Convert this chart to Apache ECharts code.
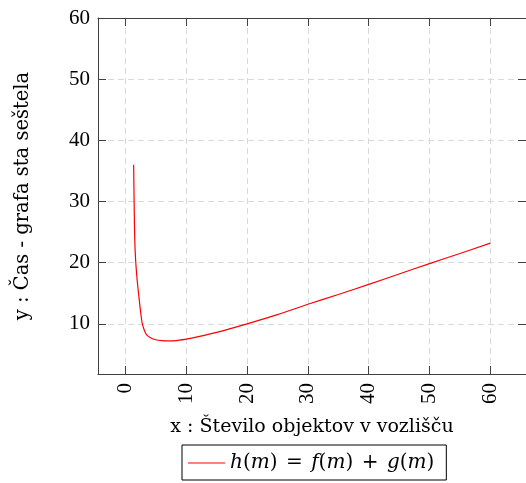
<!DOCTYPE html>
<html>
<head>
<meta charset="utf-8">
<script src="https://cdn.jsdelivr.net/npm/echarts@6/dist/echarts.min.js"></script>
<style>
  html, body { margin: 0; padding: 0; background: #fff; }
  #chart { width: 526px; height: 483px; }
</style>
</head>
<body>
<div id="chart"></div>
<script>
  // values
  const mValues = [1.36, 1.45, 1.55, 1.7, 1.95, 2.25, 2.5, 2.75, 3.1, 3.5, 4.2, 5, 6, 7, 8, 10, 12, 15, 20, 25, 30, 35, 40, 45, 50, 55, 60];
  const hValues = [36, 29, 23.5, 20.2, 17, 14.2, 12, 10.2, 9, 8.2, 7.7, 7.4, 7.25, 7.2, 7.22, 7.5, 7.9, 8.6, 10.0, 11.5, 13.2, 14.8, 16.45, 18.15, 19.85, 21.5, 23.2];
  const seriesName = 'h(m) = f(m) + g(m)';
  const xTitle = 'x : Število objektov v vozlišču';
  const yTitle = 'y : Čas - grafa sta seštela';

  const font = 'Liberation Serif';
  const textFont = 'DejaVu Serif';
  const axisColor = '#404040';
  const gridLine = { show: true, lineStyle: { color: '#d9d9d9', type: [6, 4], width: 1 } };

  const chart = echarts.init(document.getElementById('chart'));

  const frameAxis = {
    min: -4.5, max: 65.86, splitNumber: 7
  };

  chart.setOption({
    backgroundColor: '#fff',
    animation: false,
    grid: { left: 98, top: 18, right: -1, bottom: 109 },
    legend: {
      left: 182, top: 445,
      padding: [8, 12, 7, 6],
      borderColor: '#000', borderWidth: 1, borderRadius: 0,
      icon: 'rect', itemWidth: 37, itemHeight: 1.2, itemGap: 0,
      itemStyle: { color: '#ff0000' },
      data: [seriesName],
      // math-like layout: italic letters, wider spaces round = and +
      formatter: () => '{i|h}({i|m}){w| }={w| }{i|f}({i|m}){w| }+{w| }{i|g}({i|m})',
      textStyle: {
        fontFamily: textFont, fontSize: 20, color: '#000',
        rich: {
          i: { fontFamily: textFont, fontStyle: 'italic', fontSize: 20, color: '#000' },
          w: { fontFamily: textFont, fontSize: 20, width: 8.5 }
        }
      }
    },
    xAxis: [{
      type: 'value', ...frameAxis,
      name: xTitle, nameLocation: 'middle', nameGap: 44,
      nameTextStyle: { fontFamily: textFont, fontSize: 19, color: '#000' },
      axisLine: { show: true, onZero: false, lineStyle: { color: axisColor, width: 1 } },
      axisTick: { show: true, inside: true, length: 8, lineStyle: { color: axisColor } },
      axisLabel: { rotate: 90, margin: 9, fontFamily: font, fontSize: 21, color: '#000', showMinLabel: false, showMaxLabel: false },
      splitLine: gridLine
    }, {
      type: 'value', ...frameAxis, position: 'top',
      axisLine: { show: true, onZero: false, lineStyle: { color: axisColor, width: 1 } },
      axisTick: { show: true, inside: true, length: 8, lineStyle: { color: axisColor } },
      axisLabel: { show: false }, splitLine: { show: false }
    }],
    yAxis: [{
      type: 'value', min: 1.8, max: 60, splitNumber: 6,
      name: yTitle, nameLocation: 'middle', nameGap: 65,
      nameTextStyle: { fontFamily: textFont, fontSize: 19.5, color: '#000' },
      axisLine: { show: true, onZero: false, lineStyle: { color: axisColor, width: 1 } },
      axisTick: { show: true, inside: true, length: 8, lineStyle: { color: axisColor } },
      axisLabel: { margin: 8, fontFamily: font, fontSize: 21, color: '#000', showMinLabel: false },
      splitLine: gridLine
    }, {
      type: 'value', min: 1.8, max: 60, splitNumber: 6, position: 'right',
      axisLine: { show: true, onZero: false, lineStyle: { color: axisColor, width: 1 } },
      axisTick: { show: true, inside: true, length: 8, lineStyle: { color: axisColor } },
      axisLabel: { show: false }, splitLine: { show: false }
    }],
    series: [{
      name: seriesName,
      type: 'line',
      xAxisIndex: 0, yAxisIndex: 0,
      symbol: 'none',
      smooth: 0.25,
      lineStyle: { color: '#ff0000', width: 1.2 },
      itemStyle: { color: '#ff0000' },
      data: mValues.map((m, i) => [m, hValues[i]])
    }]
  });
</script>
</body>
</html>
